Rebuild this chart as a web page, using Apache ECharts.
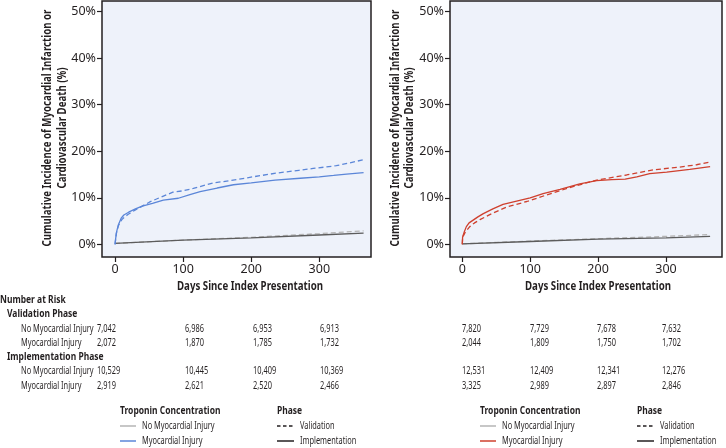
<!DOCTYPE html>
<html><head><meta charset="utf-8">
<script src="https://cdn.jsdelivr.net/npm/echarts@6/dist/echarts.min.js"></script>
<style>html,body{margin:0;padding:0;background:#fff}#c{width:726px;height:448px}</style>
</head><body><div id="c"></div><script>
// ---------- data ----------
const xTicks = [0, 100, 200, 300];
const yTicks = [0, 10, 20, 30, 40, 50];

// Left panel (blue)
const leftInjuryImpl = [[0,0],[2,2.5],[5,4.2],[9,5.6],[13,6.3],[20,6.9],[30,7.6],[40,8.2],[55,8.8],[71,9.5],[93,9.9],[110,10.7],[125,11.3],[150,12.1],[174,12.8],[200,13.2],[235,13.8],[272,14.2],[300,14.5],[321,14.8],[340,15.1],[365,15.4]];
const leftInjuryVal = [[0,0],[2,2.3],[5,4.0],[10,5.3],[15,6.0],[20,6.5],[30,7.4],[40,8.2],[51,9.1],[65,10.0],[85,11.2],[100,11.5],[115,12.0],[144,13.2],[170,13.7],[198,14.4],[237,15.3],[270,15.9],[291,16.3],[325,16.9],[345,17.5],[365,18.2]];
const leftNoInjuryImpl = [[0,0.2],[100,0.9],[200,1.4],[300,2.0],[365,2.4]];
const leftNoInjuryVal = [[0,0.2],[100,0.9],[200,1.5],[300,2.3],[365,2.9]];

// Right panel (red)
const rightInjuryImpl = [[0,0],[0.5,1.6],[3,2.7],[6,3.8],[10,4.6],[16,5.2],[23,5.9],[31,6.6],[45,7.6],[60,8.6],[80,9.3],[100,10.0],[119,10.9],[144,11.8],[173,13.0],[198,13.7],[220,13.9],[240,14.0],[257,14.5],[276,15.2],[301,15.5],[335,16.1],[365,16.7]];
const rightInjuryVal = [[0,0],[0.5,1.5],[4,2.5],[11,3.8],[18,4.6],[26,5.3],[45,6.7],[65,8.0],[95,9.2],[124,10.6],[163,12.4],[198,13.8],[242,14.9],[281,16.0],[320,16.6],[345,17.1],[365,17.7]];
const rightNoInjuryImpl = [[0,0.1],[100,0.6],[200,1.1],[300,1.4],[365,1.7]];
const rightNoInjuryVal = [[0,0.1],[100,0.7],[200,1.2],[300,1.7],[365,2.1]];

// Number at risk
const riskHeader = 'Number at Risk';
const phaseLabels = ['Validation Phase', 'Implementation Phase'];
const groupLabels = ['No Myocardial Injury', 'Myocardial Injury'];
const leftValNo = ['7,042','6,986','6,953','6,913'];
const leftValInj = ['2,072','1,870','1,785','1,732'];
const leftImpNo = ['10,529','10,445','10,409','10,369'];
const leftImpInj = ['2,919','2,621','2,520','2,466'];
const rightValNo = ['7,820','7,729','7,678','7,632'];
const rightValInj = ['2,044','1,809','1,750','1,702'];
const rightImpNo = ['12,531','12,409','12,341','12,276'];
const rightImpInj = ['3,325','2,989','2,897','2,846'];

const yAxisTitle = 'Cumulative Incidence of Myocardial Infarction or\nCardiovascular Death (%)';
const xAxisTitle = 'Days Since Index Presentation';
const legendTitle1 = 'Troponin Concentration';
const legendTitle2 = 'Phase';
const phaseNames = ['Validation', 'Implementation'];

// ---------- styles ----------
const BLUE = '#5b86d8', RED = '#cf402e', GREY_D = '#5c5c5c', GREY_L = '#b4b4b4', INK = '#231f20';
const FAM = '"Noto Sans", "Open Sans", sans-serif';
const TICKFONT = '"Noto Sans", "Open Sans", sans-serif';
const REG = 11.5, BOLD = 12, HEAD = 10.5;

// horizontal condensing factors so the humanist font matches the condensed original
const mctx = document.createElement('canvas').getContext('2d');
mctx.font = REG + 'px ' + FAM;
const SR = 72.6 / mctx.measureText('No Myocardial Injury').width;
mctx.font = 'bold ' + BOLD + 'px ' + FAM;
const SB = 146 / mctx.measureText('Days Since Index Presentation').width;

const chart = echarts.init(document.getElementById('c'), null, {renderer: 'canvas'});

function xAxisCfg(gi, min, max) {
  return {
    type: 'value', gridIndex: gi, min: min, max: max,
    axisLine: {show: false, onZero: false}, splitLine: {show: false},
    axisTick: {show: true, customValues: xTicks, length: 5, lineStyle: {color: INK, width: 1.2}},
    axisLabel: {customValues: xTicks, color: INK, fontSize: 12.5, fontFamily: TICKFONT, margin: 6}
  };
}
function yAxisCfg(gi) {
  return {
    type: 'value', gridIndex: gi, min: -2.73, max: 52.3,
    axisLine: {show: false, onZero: false}, splitLine: {show: false},
    axisTick: {show: true, customValues: yTicks, length: 5, lineStyle: {color: INK, width: 1.2}},
    axisLabel: {customValues: yTicks, color: INK, fontSize: 12.5, fontFamily: TICKFONT, margin: 6,
      formatter: v => v + '%'}
  };
}
function lineSeries(idx, data, color, dashed) {
  return {
    type: 'line', xAxisIndex: idx, yAxisIndex: idx, data: data,
    showSymbol: false, symbol: 'none', silent: true, animation: false,
    lineStyle: {color: color, width: 1.3, type: dashed ? [5, 3] : 'solid'}
  };
}

// ---------- graphic (titles, risk table, legend) ----------
const g = [];
function txt(x, y, text, opt) {
  opt = opt || {};
  g.push({type: 'text', x: x, y: y, rotation: opt.rot || 0, scaleX: opt.bold ? SB : SR, silent: true,
    style: {text: text, fill: INK, font: (opt.bold ? 'bold ' : '') + (opt.size || (opt.bold ? BOLD : REG)) + 'px ' + FAM,
      align: opt.align || 'left', verticalAlign: 'middle', lineHeight: opt.lh || 14}});
}
// axis titles
txt(55, 128, yAxisTitle, {rot: Math.PI / 2, bold: true, align: 'center', lh: 15});
txt(403, 128, yAxisTitle, {rot: Math.PI / 2, bold: true, align: 'center', lh: 14});
txt(250, 287, xAxisTitle, {bold: true, align: 'center'});
txt(598, 287, xAxisTitle, {bold: true, align: 'center'});

// risk table
const rowY = [300, 314.3, 328.3, 342.3, 356.7, 371, 385.7];
const colL = [97, 185, 253, 320];
const colR = [462, 530, 597, 662];
txt(0, rowY[0], riskHeader, {bold: true, size: HEAD});
txt(7, rowY[1], phaseLabels[0], {bold: true, size: HEAD});
txt(21, rowY[2], groupLabels[0]);
txt(21, rowY[3], groupLabels[1]);
txt(7, rowY[4], phaseLabels[1], {bold: true, size: HEAD});
txt(21, rowY[5], groupLabels[0]);
txt(21, rowY[6], groupLabels[1]);
const tableRows = [[leftValNo, rightValNo, rowY[2]], [leftValInj, rightValInj, rowY[3]],
                   [leftImpNo, rightImpNo, rowY[5]], [leftImpInj, rightImpInj, rowY[6]]];
tableRows.forEach(r => {
  r[0].forEach((v, i) => txt(colL[i], r[2], v));
  r[1].forEach((v, i) => txt(colR[i], r[2], v));
});

// legends
function legend(x0, x1, injColor) {
  const ly = [411, 426, 441];
  txt(x0, ly[0], legendTitle1, {bold: true, size: HEAD});
  g.push({type: 'line', silent: true, shape: {x1: x0, y1: ly[1], x2: x0 + 16, y2: ly[1]}, style: {stroke: GREY_L, lineWidth: 1.5}});
  txt(x0 + 22, ly[1], groupLabels[0]);
  g.push({type: 'line', silent: true, shape: {x1: x0, y1: ly[2], x2: x0 + 16, y2: ly[2]}, style: {stroke: injColor, lineWidth: 1.5}});
  txt(x0 + 22, ly[2], groupLabels[1]);
  txt(x1, ly[0], legendTitle2, {bold: true, size: HEAD});
  g.push({type: 'line', silent: true, shape: {x1: x1, y1: ly[1], x2: x1 + 17, y2: ly[1]}, style: {stroke: INK, lineWidth: 1.3, lineDash: [3.5, 2.5]}});
  txt(x1 + 23, ly[1], phaseNames[0]);
  g.push({type: 'line', silent: true, shape: {x1: x1, y1: ly[2], x2: x1 + 17, y2: ly[2]}, style: {stroke: INK, lineWidth: 1.5}});
  txt(x1 + 23, ly[2], phaseNames[1]);
}
legend(120, 277, BLUE);
legend(480, 637, RED);

chart.setOption({
  animation: false,
  grid: [
    {left: 102, top: 1, width: 269, height: 256, show: true, backgroundColor: '#eef2fa', borderColor: INK, borderWidth: 1.5},
    {left: 450, top: 1, width: 272, height: 256, show: true, backgroundColor: '#eef2fa', borderColor: INK, borderWidth: 1.5}
  ],
  xAxis: [xAxisCfg(0, -19.1, 375.9), xAxisCfg(1, -18.1, 382.5)],
  yAxis: [yAxisCfg(0), yAxisCfg(1)],
  series: [
    lineSeries(0, leftNoInjuryVal, GREY_L, true),
    lineSeries(0, leftNoInjuryImpl, GREY_D, false),
    lineSeries(0, leftInjuryVal, BLUE, true),
    lineSeries(0, leftInjuryImpl, BLUE, false),
    lineSeries(1, rightNoInjuryVal, GREY_L, true),
    lineSeries(1, rightNoInjuryImpl, GREY_D, false),
    lineSeries(1, rightInjuryVal, RED, true),
    lineSeries(1, rightInjuryImpl, RED, false)
  ],
  graphic: g
});
</script></body></html>
